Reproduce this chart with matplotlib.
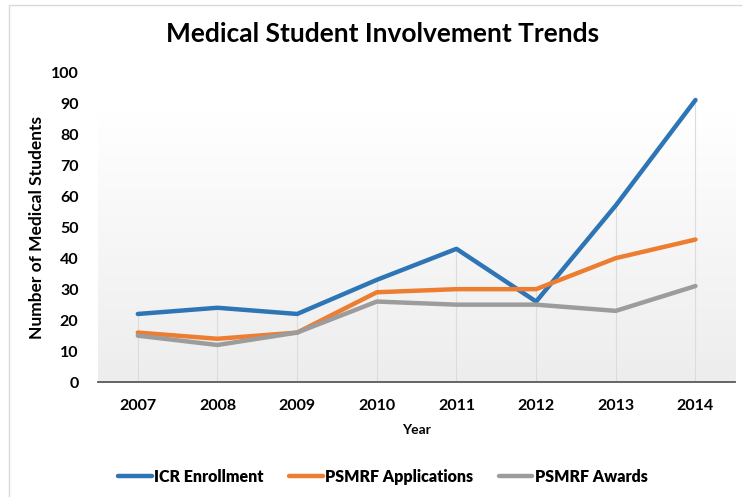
import matplotlib.pyplot as plt
import numpy as np
from matplotlib.font_manager import FontProperties

plt.rcParams['font.family'] = ['Lato', 'DejaVu Sans']

years = [2007, 2008, 2009, 2010, 2011, 2012, 2013, 2014]
icr_enrollment = [22, 24, 22, 33, 43, 26, 57, 91]
psmrf_applications = [16, 14, 16, 29, 30, 30, 40, 46]
psmrf_awards = [15, 12, 16, 26, 25, 25, 23, 31]

series = [
    ("ICR Enrollment", icr_enrollment, "#2E75B6"),
    ("PSMRF Applications", psmrf_applications, "#ED7D31"),
    ("PSMRF Awards", psmrf_awards, "#9C9C9C"),
]

fig = plt.figure(figsize=(7.42, 4.97), dpi=100)
ax = fig.add_axes([0.132, 0.231, 0.859, 0.624])

# light frame around the whole chart
fig.patches.append(plt.Rectangle((9 / 742, -0.1), 1.2, 1.1 - 5 / 497,
                                 transform=fig.transFigure, fill=False,
                                 edgecolor="#d9d9d9", linewidth=1))

# plot area gradient, white to light grey
grad = np.linspace(0, 1, 256).reshape(-1, 1)
ax.imshow(grad, extent=[2006.5, 2014.5, 0, 87], aspect="auto",
          cmap=plt.matplotlib.colors.LinearSegmentedColormap.from_list(
              "g", ["#ededed", "#ffffff"]), origin="lower", zorder=0)

# drop lines
tops = np.max([icr_enrollment, psmrf_applications, psmrf_awards], axis=0)
ax.vlines(years, 0, tops, color="#dcdcdc", linewidth=0.8, zorder=1)

for name, vals, col in series:
    ax.plot(years, vals, color=col, linewidth=3.2, label=name,
            solid_capstyle="round", solid_joinstyle="round", zorder=3)

ax.set_xlim(2006.5, 2014.5)
ax.set_ylim(0, 100)
ax.set_yticks(range(0, 101, 10))
ax.set_xticks(years)
ax.tick_params(axis="both", length=0, labelsize=11.5, pad=12)
ax.tick_params(axis="y", pad=14)
for lab in ax.get_xticklabels() + ax.get_yticklabels():
    lab.set_fontweight("bold")

for s in ["top", "right", "left"]:
    ax.spines[s].set_visible(False)
ax.spines["bottom"].set_color("#595959")
ax.spines["bottom"].set_linewidth(1.3)
ax.spines["bottom"].set_zorder(4)

ax.set_xlabel("Year", fontsize=10, fontweight="bold", labelpad=8)
ax.set_ylabel("Number of Medical Students", fontsize=12.5, fontweight="bold",
              labelpad=4)

fig.suptitle("Medical Student Involvement Trends", x=0.516, y=0.955,
             fontsize=19, fontweight="bold")

leg_font = FontProperties(family="Lato", weight="heavy", size=11.5)
leg = ax.legend(loc="center", bbox_to_anchor=(0.447, -0.305), ncol=3,
                frameon=False, handlelength=2.1, columnspacing=1.6,
                handletextpad=0.15, prop=leg_font)

fig.savefig("out.png", dpi=100)
